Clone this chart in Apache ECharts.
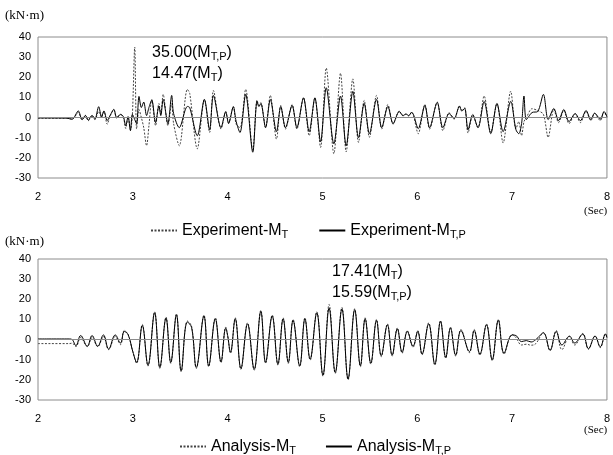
<!DOCTYPE html>
<html>
<head>
<meta charset="utf-8">
<script src="https://cdn.jsdelivr.net/npm/echarts@6/dist/echarts.min.js"></script>
<style>
  html, body { margin: 0; padding: 0; background: #fff; }
  #main { width: 613px; height: 455px; }
</style>
</head>
<body>
<div id="main"></div>
<script>
// x / y ticks
var xTicks = [2, 3, 4, 5, 6, 7, 8];
var yTicks = [-30, -20, -10, 0, 10, 20, 30, 40];

// top panel: experiment (turning points)
var topTime = [2.00, 2.30, 2.36, 2.425, 2.465, 2.50, 2.53, 2.57, 2.60, 2.64, 2.67, 2.695, 2.73, 2.76, 2.80, 2.83, 2.87, 2.90, 2.925, 2.95,
  2.975, 2.995, 3.02, 3.04, 3.065, 3.09, 3.115, 3.145, 3.17, 3.20, 3.24, 3.275, 3.295, 3.32, 3.37, 3.41, 3.43, 3.49, 3.575, 3.60,
  3.68, 3.755, 3.81, 3.85, 3.93, 3.98, 4.01, 4.06, 4.09, 4.13, 4.19, 4.265, 4.31, 4.33, 4.35, 4.40, 4.45, 4.515, 4.56, 4.61,
  4.68, 4.73, 4.80, 4.86, 4.92, 4.98, 5.04, 5.12, 5.19, 5.25, 5.32, 5.38, 5.44, 5.495, 5.57, 5.625, 5.69, 5.745, 5.81, 5.85,
  5.88, 5.91, 5.94, 5.96, 6.01, 6.08, 6.13, 6.21, 6.27, 6.335, 6.37, 6.39, 6.445, 6.47, 6.50, 6.535, 6.585, 6.64, 6.705, 6.775,
  6.84, 6.905, 6.985, 7.04, 7.07, 7.10, 7.125, 7.15, 7.21, 7.27, 7.33, 7.38, 7.44, 7.49, 7.545, 7.60, 7.665, 7.72, 7.78, 7.83,
  7.87, 7.93, 7.97, 8.00];
var expMT = [-0.3, -0.3, -0.8, 2.5, -1.0, 1.0, -1.6, 1.0, -1.0, 3.0, 0.0, 3.0, -3.3, 0.8, 3.8, -0.3, 1.4, 0.3, -5.4, 0.3,
  -6.0, 1.0, 35.0, -5.7, 4.0, 0.0, -5.0, -14.0, -4.0, 9.0, -4.0, 7.0, 2.0, 11.5, -4.0, 7.0, -3.0, -14.0, 14.0, 12.0,
  -15.5, 9.0, -7.4, 13.4, -5.7, 2.5, -2.5, 5.4, -3.3, -5.0, 14.0, -16.0, 8.7, 6.0, 7.4, -5.0, 11.0, -10.7, 6.0, -5.7,
  6.5, -5.7, 9.8, -9.0, 9.8, -14.8, 24.6, -18.0, 22.0, -17.0, 19.2, -12.3, 8.5, -9.8, 11.0, -5.7, 6.5, -3.3, 3.3, 0.8,
  1.6, 0.8, 2.8, 1.0, -8.0, 6.5, -5.7, 7.7, -6.5, 2.5, 0.0, -0.8, 6.0, 3.0, 5.0, -7.7, 1.0, -5.0, 10.7, -7.4,
  7.0, -12.6, 13.1, -5.7, -2.0, -9.0, -2.0, 0.0, 4.4, 3.5, 1.6, -9.8, 4.1, -2.5, 3.5, -3.0, 1.8, -2.5, 3.0, -1.5,
  2.0, -1.5, 2.8, 0.0];
var expMTP = [-0.2, -0.3, -0.8, 3.3, -1.1, 1.1, -1.3, 1.1, -0.8, 5.4, 0.5, 3.3, -1.5, 1.0, 4.1, 0.0, 1.6, 0.5, -4.0, 0.5,
  -6.5, 1.6, -1.0, -3.0, 10.5, 5.0, 7.7, 1.0, 5.0, 8.7, -2.5, 5.7, 1.0, 9.0, -3.0, 11.0, 2.0, -5.0, 5.5, 5.0,
  -9.0, 9.0, -6.0, 11.0, -5.0, 3.0, -3.0, 5.4, -2.0, -7.4, 11.5, -17.2, 8.0, 5.5, 7.0, -5.0, 9.0, -7.0, 5.5, -5.0,
  6.0, -5.0, 9.8, -7.0, 9.8, -12.0, 14.8, -13.0, 10.7, -14.0, 13.0, -10.0, 7.0, -8.0, 9.0, -5.0, 5.5, -3.0, 3.0, 1.0,
  1.8, 1.0, 2.5, 1.5, -5.5, 6.0, -5.0, 7.5, -5.0, 2.0, 0.5, -0.5, 5.5, 3.5, 4.5, -6.0, 1.5, -5.0, 8.0, -8.0,
  7.0, -7.0, 8.0, -6.0, -8.0, -3.0, 10.7, -1.0, 2.5, 3.0, 11.5, -1.0, 4.5, -1.5, 4.0, -2.0, 2.0, -1.5, 3.5, -1.0,
  2.2, -0.8, 3.0, 0.5];

// bottom panel: analysis
var botTime = [2.00, 2.33, 2.36, 2.40, 2.45, 2.52, 2.57, 2.63, 2.69, 2.745, 2.815, 2.87, 2.91, 2.95, 3.00, 3.04, 3.10, 3.16, 3.23, 3.285,
  3.35, 3.40, 3.46, 3.51, 3.575, 3.62, 3.67, 3.75, 3.80, 3.87, 3.93, 3.98, 4.00, 4.03, 4.08, 4.14, 4.21, 4.28, 4.35, 4.40,
  4.47, 4.53, 4.585, 4.64, 4.69, 4.76, 4.815, 4.87, 4.94, 5.005, 5.07, 5.135, 5.205, 5.27, 5.34, 5.40, 5.45, 5.51, 5.57, 5.62,
  5.685, 5.735, 5.79, 5.84, 5.895, 5.955, 6.005, 6.05, 6.12, 6.185, 6.245, 6.30, 6.35, 6.405, 6.46, 6.55, 6.60, 6.66, 6.73, 6.79,
  6.855, 6.915, 7.00, 7.04, 7.10, 7.15, 7.20, 7.25, 7.33, 7.40, 7.465, 7.525, 7.605, 7.66, 7.745, 7.805, 7.875, 7.93, 7.985, 8.00];
var anaMT = [-2.0, -2.0, -1.8, -3.5, 1.0, -3.5, 1.0, -3.5, 1.5, -5.0, 1.5, -2.5, 4.5, 2.5, -6.0, -11.8, 7.5, -13.2, 13.8, -14.3,
  11.2, -11.8, 12.8, -16.0, 9.2, 6.5, -14.3, 12.2, -13.5, 10.8, -11.5, 6.2, 2.0, -6.8, 10.8, -14.8, 8.3, -15.2, 14.5, -11.8,
  12.2, -12.7, 10.8, -11.8, 10.0, -13.5, 10.8, -10.2, 13.8, -18.2, 17.41, -16.8, 16.0, -20.0, 15.3, -13.5, 10.8, -12.2, 10.0, -8.5,
  7.8, -8.2, 5.8, -6.8, 4.5, -3.8, 4.5, -7.6, 8.3, -12.7, 9.5, -9.3, 6.2, -8.2, 5.0, -6.5, 5.0, -7.7, 7.8, -10.5,
  10.0, -7.2, 2.5, 1.0, -2.7, -2.3, -2.8, -2.0, 3.5, -5.5, 4.5, -5.0, 1.5, -2.7, 3.0, -4.8, 1.8, -4.0, 3.0, 1.0];
var anaMTP = [0.3, 0.3, 0.0, -3.0, 2.0, -3.3, 2.0, -3.3, 2.3, -4.7, 2.3, -1.7, 4.0, 2.5, -6.0, -11.3, 7.0, -12.7, 13.3, -13.8,
  10.7, -11.3, 12.3, -15.5, 8.7, 6.0, -13.8, 11.7, -13.0, 10.3, -11.0, 5.7, 2.0, -6.3, 10.3, -14.3, 7.8, -14.7, 14.0, -11.3,
  11.7, -12.2, 10.3, -11.3, 9.5, -13.0, 10.3, -9.7, 13.3, -17.7, 15.59, -16.3, 15.2, -19.5, 14.8, -13.0, 10.3, -11.7, 9.5, -8.0,
  7.3, -7.7, 5.3, -6.3, 4.0, -3.3, 4.0, -7.2, 7.8, -12.2, 9.0, -8.8, 5.7, -7.7, 4.5, -6.0, 4.5, -7.2, 7.3, -10.0,
  9.5, -6.7, 2.3, 2.0, -1.0, -0.5, -1.2, 0.0, 3.3, -5.3, 4.0, -2.7, 1.7, -1.7, 2.7, -4.5, 1.7, -3.6, 2.7, 1.0];

function pairs(ts, vs) {
  return ts.map(function (t, i) { return [t, vs[i]]; });
}

var myChart = echarts.init(document.getElementById('main'));

var richText = {
  n: { fontSize: 16, fontFamily: 'Liberation Sans', color: '#000', lineHeight: 20 },
  s: { fontSize: 11, fontFamily: 'Liberation Sans', color: '#000', lineHeight: 13, padding: [8, 0, 0, 0] }
};
var legendLabels = {
  'Experiment-MT': '{n|Experiment-M}{s|T}',
  'Experiment-MTP': '{n|Experiment-M}{s|T,P}',
  'Analysis-MT': '{n|Analysis-M}{s|T}',
  'Analysis-MTP': '{n|Analysis-M}{s|T,P}'
};

var dotted = { color: '#444', width: 1, type: [2, 1.5] };
var solid = { color: '#000', width: 1, type: 'solid' };
var zeroLine = {
  silent: true, symbol: ['none', 'none'], label: { show: false },
  lineStyle: { color: '#8a8a8a', type: 'solid', width: 1 },
  data: [{ yAxis: 0 }]
};

function xAx(idx) {
  return {
    type: 'value', gridIndex: idx, min: xTicks[0], max: xTicks[xTicks.length - 1], interval: 1,
    axisLine: { show: false }, axisTick: { show: false }, splitLine: { show: false },
    axisLabel: { margin: 13, fontSize: 11, color: '#000', fontFamily: 'Liberation Sans' }
  };
}
function yAx(idx) {
  return {
    type: 'value', gridIndex: idx, min: yTicks[0], max: yTicks[yTicks.length - 1], interval: 10,
    axisLine: { show: false }, axisTick: { show: false }, splitLine: { show: false },
    axisLabel: { margin: 7, fontSize: 11, color: '#000', fontFamily: 'Liberation Sans' }
  };
}

function legendFor(names, left, top, gap) {
  return {
    data: names, left: left, top: top, itemWidth: 26, itemGap: gap,
    itemStyle: { opacity: 0 },
    formatter: function (name) { return legendLabels[name]; },
    textStyle: { rich: richText }, selectedMode: false
  };
}

var option = {
  animation: false,
  backgroundColor: '#fff',
  grid: [
    { left: 38, right: 1, top: 37, height: 141, show: true, borderColor: '#8c8c8c', borderWidth: 1 },
    { left: 38, right: 1, top: 259, height: 141, show: true, borderColor: '#8c8c8c', borderWidth: 1 }
  ],
  xAxis: [xAx(0), xAx(1)],
  yAxis: [yAx(0), yAx(1)],
  legend: [
    legendFor(['Experiment-MT', 'Experiment-MTP'], 145, 216, 30),
    legendFor(['Analysis-MT', 'Analysis-MTP'], 174, 432, 29)
  ],
  graphic: [
    { type: 'text', left: 5, top: 9, style: { text: '(kN·m)', font: '13px "Liberation Serif"', fill: '#000' } },
    { type: 'text', left: 5, top: 235, style: { text: '(kN·m)', font: '13px "Liberation Serif"', fill: '#000' } },
    { type: 'text', left: 584, top: 206, style: { text: '(Sec)', font: '11px "Liberation Serif"', fill: '#000' } },
    { type: 'text', left: 584, top: 425, style: { text: '(Sec)', font: '11px "Liberation Serif"', fill: '#000' } },
    { type: 'text', left: 152, top: 43, style: { text: '{n|35.00(M}{s|T,P}{n|)}', rich: richText } },
    { type: 'text', left: 152, top: 64, style: { text: '{n|14.47(M}{s|T}{n|)}', rich: richText } },
    { type: 'text', left: 332, top: 262, style: { text: '{n|17.41(M}{s|T}{n|)}', rich: richText } },
    { type: 'text', left: 332, top: 283, style: { text: '{n|15.59(M}{s|T,P}{n|)}', rich: richText } }
  ],
  series: [
    { name: 'Experiment-MT', type: 'line', xAxisIndex: 0, yAxisIndex: 0, symbol: 'none', smooth: 0.3,
      data: pairs(topTime, expMT), lineStyle: dotted, itemStyle: { color: '#444' }, markLine: zeroLine, z: 2 },
    { name: 'Experiment-MTP', type: 'line', xAxisIndex: 0, yAxisIndex: 0, symbol: 'none', smooth: 0.3,
      data: pairs(topTime, expMTP), lineStyle: solid, itemStyle: { color: '#000' }, z: 3 },
    { name: 'Analysis-MT', type: 'line', xAxisIndex: 1, yAxisIndex: 1, symbol: 'none', smooth: 0.4,
      data: pairs(botTime, anaMT), lineStyle: dotted, itemStyle: { color: '#444' }, markLine: zeroLine, z: 2 },
    { name: 'Analysis-MTP', type: 'line', xAxisIndex: 1, yAxisIndex: 1, symbol: 'none', smooth: 0.4,
      data: pairs(botTime, anaMTP), lineStyle: solid, itemStyle: { color: '#000' }, z: 3 }
  ]
};

myChart.setOption(option);
</script>
</body>
</html>
